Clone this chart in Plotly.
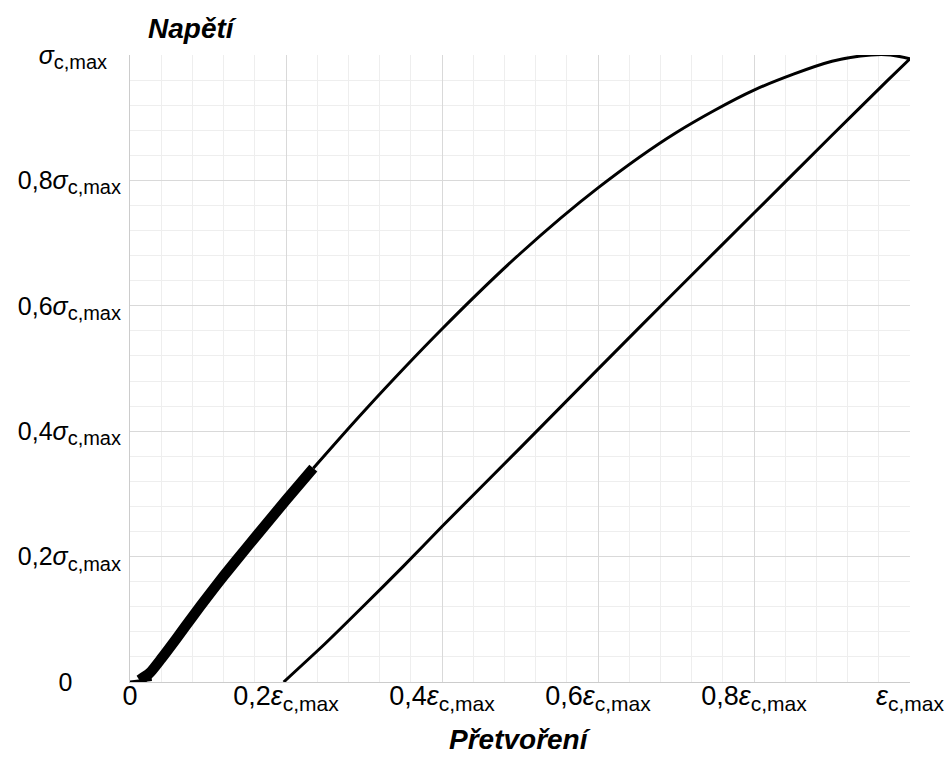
import plotly.graph_objects as go

# Data (fractions of eps_c,max and sigma_c,max)
tail_x = [0.0, 0.012, 0.028]
tail_y = [0.0, 0.002, 0.004]

cyc_x = [0.012, 0.025, 0.040, 0.060, 0.080, 0.100, 0.120, 0.150, 0.200, 0.235]
cyc_y = [0.003, 0.014, 0.037, 0.070, 0.104, 0.137, 0.169, 0.215, 0.290, 0.341]

load_x = [0.235, 0.300, 0.400, 0.500, 0.600, 0.700, 0.800, 0.900, 0.950, 0.975, 1.000]
load_y = [0.341, 0.432, 0.563, 0.683, 0.788, 0.876, 0.944, 0.990, 1.000, 1.000, 0.994]

unload_x = [1.000, 0.970, 0.900, 0.800, 0.700, 0.600, 0.500, 0.400, 0.350, 0.300, 0.250, 0.197]
unload_y = [0.994, 0.958, 0.872, 0.748, 0.624, 0.499, 0.373, 0.248, 0.184, 0.122, 0.061, 0.000]

SUBX = "<sub><span style='font-size:21px'>c,max</span></sub>"
SUBY = "<sub><span style='font-size:20px'>c,max</span></sub>"
NB = "\u00a0"
x_tickvals = [0, 0.2, 0.4, 0.6, 0.8, 1.0]
x_ticktext = ["0", "0,2<i>ε</i>" + SUBX, "0,4<i>ε</i>" + SUBX,
              "0,6<i>ε</i>" + SUBX, "0,8<i>ε</i>" + SUBX, "<i>ε</i>" + SUBX]
y_tickvals = [0, 0.2, 0.4, 0.6, 0.8, 1.0]
y_ticktext = ["0" + NB * 7, "0,2<i>σ</i>" + SUBY, "0,4<i>σ</i>" + SUBY,
              "0,6<i>σ</i>" + SUBY, "0,8<i>σ</i>" + SUBY,
              "<i>σ</i>" + SUBY + NB * 2]

FAM = "Liberation Sans, Arial, sans-serif"
font_x = dict(family=FAM, size=27, color="black")
font_y = dict(family=FAM, size=25, color="black")

fig = go.Figure()
fig.add_trace(go.Scatter(x=tail_x, y=tail_y, mode="lines",
                         line=dict(color="black", width=3), showlegend=False))
fig.add_trace(go.Scatter(x=cyc_x, y=cyc_y, mode="lines",
                         line=dict(color="black", width=10.5, shape="spline", smoothing=0.6),
                         showlegend=False))
fig.add_trace(go.Scatter(x=load_x, y=load_y, mode="lines",
                         line=dict(color="black", width=3, shape="spline", smoothing=0.8),
                         showlegend=False))
fig.add_trace(go.Scatter(x=unload_x, y=unload_y, mode="lines",
                         line=dict(color="black", width=3, shape="spline", smoothing=0.6),
                         showlegend=False))

fig.update_layout(
    width=945, height=767,
    margin=dict(l=130, r=35, t=55, b=85, autoexpand=False),
    paper_bgcolor="white", plot_bgcolor="white",
    font=font_x,
    xaxis=dict(range=[0, 1], tickvals=x_tickvals, ticktext=x_ticktext,
               showgrid=True, gridcolor="#d9d9d9", gridwidth=1,
               minor=dict(dtick=0.04, tick0=0, showgrid=True, gridcolor="#eeeeee", gridwidth=1),
               zeroline=False, showline=True, linecolor="#cccccc", linewidth=1,
               ticks="", tickfont=font_x, ticklabelstandoff=-10, automargin=False),
    yaxis=dict(range=[0, 1], tickvals=y_tickvals, ticktext=y_ticktext,
               showgrid=True, gridcolor="#d9d9d9", gridwidth=1,
               minor=dict(dtick=0.04, tick0=0, showgrid=True, gridcolor="#eeeeee", gridwidth=1),
               zeroline=False, showline=True, linecolor="#cccccc", linewidth=1,
               ticks="", tickfont=font_y, ticklabelstandoff=3, automargin=False),
    annotations=[
        dict(text="<b><i>Napětí</i></b>", xref="paper", yref="paper",
             x=0.0795, y=1.043, xanchor="center", yanchor="middle", showarrow=False,
             font=dict(family=FAM, size=28, color="black")),
        dict(text="<b><i>Přetvoření</i></b>", xref="paper", yref="paper",
             x=0.5, y=-0.0925, xanchor="center", yanchor="middle", showarrow=False,
             font=dict(family=FAM, size=28, color="black")),
    ],
)

fig.write_html("out.html", config={"displayModeBar": False},
               post_script="document.body.style.margin='0';")
